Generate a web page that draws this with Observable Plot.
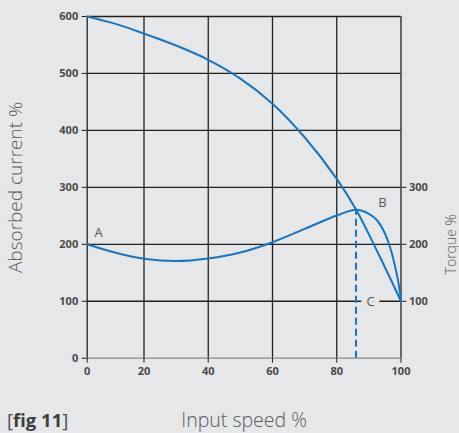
<!DOCTYPE html>
<html>
<head>
<meta charset="utf-8">
<script src="https://cdn.jsdelivr.net/npm/d3@7"></script>
<script src="https://cdn.jsdelivr.net/npm/@observablehq/plot@0.6"></script>
<style>
  html, body { margin: 0; padding: 0; background: #e6e7e9; }
  #wrap { position: relative; width: 459px; height: 433px; overflow: hidden; }
  g[aria-label$="tick label"] { fill: #4a4a4a; }
  #fig { position: absolute; left: 7px; top: 410px; font-family: "Open Sans", sans-serif; font-size: 18.5px; color: #4d4d4d; line-height: 20px; white-space: nowrap; }
  #fig b { font-weight: 700; color: #3f3f3f; }
</style>
</head>
<body>
<div id="wrap"><div id="fig">[<b>fig 11</b>]</div></div>
<script>
// Absorbed current curve (Input speed %, Absorbed current %)
const currentSpeed = [0, 10, 20, 30, 40, 50, 60, 70, 80, 86, 93, 100];
const currentValue = [600, 587, 570, 549, 524, 491, 447, 388, 315, 261, 183, 100];

// Torque curve (Input speed %, Torque %)
const torqueSpeed = [0, 10, 20, 30, 40, 50, 60, 70, 80, 86, 90, 92.6, 95.7, 98.9, 100];
const torqueValue = [200, 185, 174.5, 170.5, 175, 185.5, 203.7, 227, 250.6, 260.6, 253.5, 241.8, 209.7, 142, 100];

// Dashed marker at breakdown point B
const breakdownSpeed = [86];
const breakdownTorque = [260.6];

// Point labels
const labelText = ["A", "B", "C"];
const labelSpeed = [4, 94.2, 90.5];
const labelValue = [221, 273, 99];

// Ticks
const xTicks = [0, 20, 40, 60, 80, 100];
const yTicks = [0, 100, 200, 300, 400, 500, 600];
const yGrid = [100, 200, 300, 400, 500, 600];
const torqueTicks = [100, 200, 300];

const blue = "#1b75bc";
const ink = "#231f20";
const grey = "#58595b";

// the original's first x interval (0–20) is drawn narrower than the others
const firstSpan = 0.884;
const xWarp = v => v <= 20 ? v * firstSpan : 20 * firstSpan + (v - 20);

const current = currentSpeed.map((s, i) => ({s, v: currentValue[i]}));
const torque = torqueSpeed.map((s, i) => ({s, v: torqueValue[i]}));
const labels = labelText.map((t, i) => ({t, s: labelSpeed[i], v: labelValue[i]}));
const breakdown = breakdownSpeed.map((s, i) => ({s, v: breakdownTorque[i]}));

const chart = Plot.plot({
  width: 459,
  height: 433,
  marginTop: 16,
  marginBottom: 75.3,
  marginLeft: 86.7,
  marginRight: 58.5,
  style: {background: "transparent", fontFamily: "Open Sans", fontSize: "11px", color: ink},
  x: {type: "linear", transform: xWarp, domain: [xWarp(0), xWarp(100)], range: [86.7, 400.5]},
  y: {domain: [0, 600], range: [357.7, 16]},
  marks: [
    Plot.gridY(yGrid, {stroke: ink, strokeOpacity: 1, strokeWidth: 1.3}),
    Plot.gridX(xTicks, {stroke: ink, strokeOpacity: 1, strokeWidth: 1.3}),
    Plot.ruleY([0], {stroke: "#8a8a8a", strokeWidth: 1.3}),
    Plot.axisY(yTicks, {anchor: "left", tickSize: 5, tickPadding: 4, fontWeight: "bold", fontSize: 11, label: null}),
    Plot.axisY(torqueTicks, {anchor: "right", tickSize: 5, tickPadding: 3, fontWeight: "bold", fontSize: 11, label: null}),
    Plot.axisX(xTicks, {anchor: "bottom", tickSize: 5, tickPadding: 4, fontWeight: "bold", fontSize: 11, label: null, tickFormat: d => String(d)}),
    Plot.ruleX(breakdown, {x: "s", y1: 0, y2: "v", stroke: blue, strokeWidth: 2, strokeDasharray: "7,4"}),
    Plot.line(current, {x: "s", y: "v", stroke: blue, strokeWidth: 2, curve: "catmull-rom"}),
    Plot.line(torque, {x: "s", y: "v", stroke: blue, strokeWidth: 2, curve: "catmull-rom"}),
    Plot.text(labels, {x: "s", y: "v", text: "t", fontSize: 13, fill: grey, stroke: "#e6e7e9", strokeWidth: 12}),
    Plot.text(["Absorbed current %"], {frameAnchor: "left", textAnchor: "middle", lineAnchor: "middle", dx: -71.1, rotate: -90, fontSize: 19, fontWeight: 300, fill: grey}),
    Plot.text(["Torque %"], {x: 100, y: 200, dx: 51, rotate: -90, fontSize: 14, fontWeight: 300, fill: grey}),
    Plot.text(["Input speed %"], {frameAnchor: "bottom", textAnchor: "middle", lineAnchor: "middle", dy: 63, fontSize: 19.5, fontWeight: 300, fill: grey})
  ]
});
document.getElementById("wrap").prepend(chart);
</script>
</body>
</html>
